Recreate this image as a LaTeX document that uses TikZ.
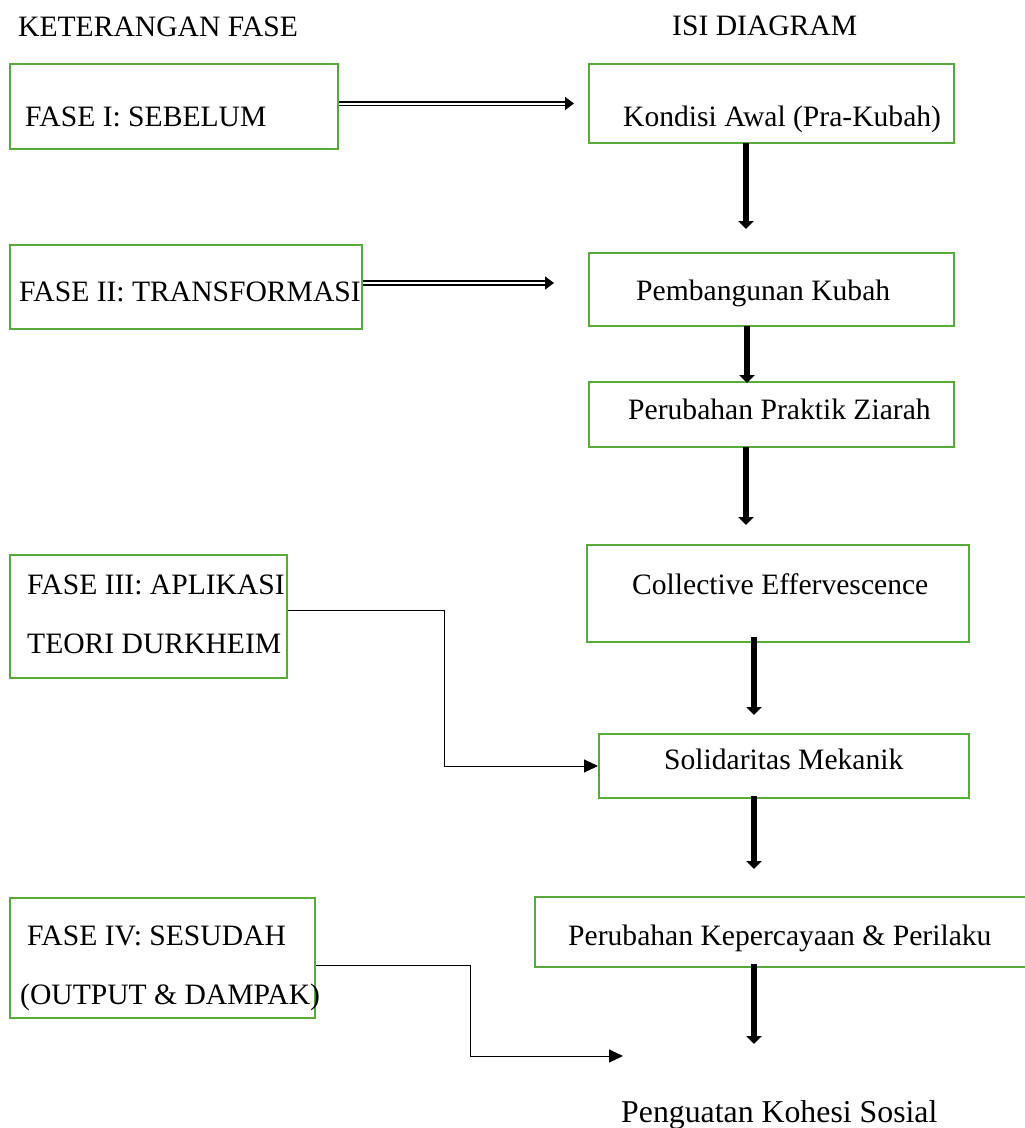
\documentclass[tikz,border=0pt]{standalone}
\usepackage{fontspec}
\setmainfont{Liberation Serif}
\usepackage{tikz}
\usetikzlibrary{arrows.meta}
\definecolor{boxgreen}{RGB}{87,171,57}

\begin{document}
\begin{tikzpicture}[x=1pt,y=-1pt,
    box/.style={draw=boxgreen, line width=2pt, rectangle, inner sep=0pt},
    lbl/.style={anchor=base west, inner sep=0pt, font=\fontsize{29.6}{35}\selectfont},
    flow/.style={line width=6pt, -{Triangle[length=8pt,width=15pt]}},
    dbl/.style={double, line width=1.8pt, double distance=2pt, -{Triangle[length=9pt,width=13pt]}},
    link/.style={line width=1pt, -{Triangle[length=14pt,width=13pt]}}]
      \clip (0,0) rectangle (1025,1128);
      % phase column
      \node (B1) at (174,106.5) [box, minimum width=328pt, minimum height=85pt] {};
      \node (B2) at (186,287) [box, minimum width=352pt, minimum height=84pt] {};
      \node (B3) at (148.5,616.5) [box, minimum width=277pt, minimum height=123pt] {};
      \node (B4) at (162.5,958) [box, minimum width=305pt, minimum height=120pt] {};
      \node (tK) at (18,36) [lbl] {KETERANGAN FASE};
      \node (tB1) at (25,126) [lbl] {FASE I: SEBELUM};
      \node (tB2) at (19,301) [lbl] {FASE II: TRANSFORMASI};
      \node (tB3a) at (27,594) [lbl] {FASE III: APLIKASI};
      \node (tB3b) at (27,653) [lbl] {TEORI DURKHEIM};
      \node (tB4a) at (27,945) [lbl] {FASE IV: SESUDAH};
      \node (tB4b) at (20,1004) [lbl] {(OUTPUT \& DAMPAK)};
      % diagram column
      \node (R1) at (771.5,103.5) [box, minimum width=365pt, minimum height=79pt] {};
      \node (R2) at (771.5,289.5) [box, minimum width=365pt, minimum height=73pt] {};
      \node (R3) at (771.5,414.5) [box, minimum width=365pt, minimum height=65pt] {};
      \node (R4) at (778,593.5) [box, minimum width=382pt, minimum height=97pt] {};
      \node (R5) at (784,766) [box, minimum width=370pt, minimum height=64pt] {};
      \node (R6) at (785,932) [box, minimum width=500pt, minimum height=70pt] {};
      \node (tI) at (672,35) [lbl] {ISI DIAGRAM};
      \node (tR1) at (623,126) [lbl] {Kondisi Awal (Pra-Kubah)};
      \node (tR2) at (636,300) [lbl] {Pembangunan Kubah};
      \node (tR3) at (628,419) [lbl] {Perubahan Praktik Ziarah};
      \node (tR4) at (632,594) [lbl] {Collective Effervescence};
      \node (tR5) at (664,769) [lbl] {Solidaritas Mekanik};
      \node (tR6) at (568,945) [lbl] {Perubahan Kepercayaan \& Perilaku};
      \node (kohesi) at (621,1122) [lbl, font=\fontsize{31.8}{38}\selectfont] {Penguatan Kohesi Sosial};
      \coordinate (k4) at (623,1056);
      % arrows
      \draw[dbl] (B1.east |- R1.west) -- ([xshift=-14pt]R1.west);
      \draw[dbl] ([yshift=4pt]B2.east) -- ([xshift=-34pt,yshift=6.5pt]R2.west);
      \draw[flow] ([xshift=-25.5pt,yshift=1pt]R1.south) -- ([xshift=-25.5pt,yshift=23pt]R2.north);
      \draw[flow] ([xshift=-24.5pt,yshift=1pt]R2.south) -- ([xshift=-24.5pt,yshift=-2pt]R3.north);
      \draw[flow] ([xshift=-25.5pt,yshift=1pt]R3.south) -- ([xshift=-32pt,yshift=19pt]R4.north);
      \draw[flow] ([xshift=-24pt,yshift=6pt]R4.south) -- ([xshift=-30pt,yshift=18pt]R5.north);
      \draw[flow] ([xshift=-30pt,yshift=3pt]R5.south) -- ([xshift=-31pt,yshift=27pt]R6.north);
      \draw[flow] ([xshift=-31pt,yshift=4pt]R6.south) -- ([xshift=133pt,yshift=78pt]kohesi.base west);
      \draw[link] ([yshift=6.5pt]B3.east) -- ++(156,0) |- (R5.west);
      \draw[link] ([yshift=-7pt]B4.east) -- ++(154,0) |- (k4);
    \end{tikzpicture}
\end{document}
